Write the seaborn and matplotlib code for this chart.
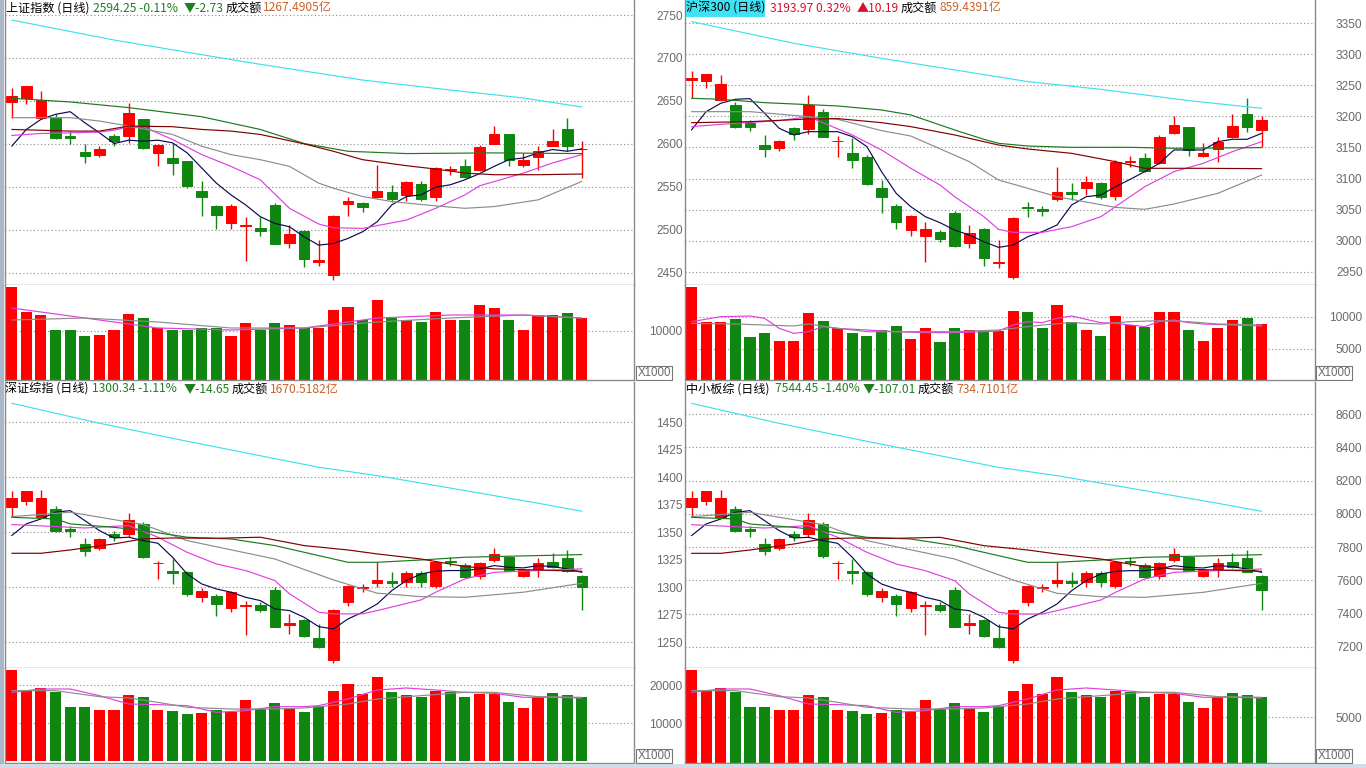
import numpy as np
import matplotlib
matplotlib.use("Agg")
import matplotlib.pyplot as plt
import matplotlib.patches as mpatches
import seaborn as sns

# ---------------- DATA ----------------
# 上证指数 (top-left)
tl_open = [2648.8, 2653.9, 2630.5, 2630.5, 2609.0, 2590.2, 2587.5, 2609.0, 2609.0, 2628.5, 2589.5, 2583.6, 2579.7, 2545.3, 2527.8, 2508.2, 2504.7, 2502.0, 2528.9, 2484.8, 2498.5, 2462.5, 2446.9, 2529.7, 2531.7, 2537.9, 2543.8, 2540.6, 2553.5, 2538.7, 2569.2, 2574.6, 2569.2, 2600.4, 2611.0, 2575.8, 2584.8, 2597.3, 2616.8, 2593.5]
tl_close = [2655.9, 2667.6, 2651.2, 2607.0, 2606.7, 2585.6, 2594.5, 2603.1, 2635.6, 2595.3, 2599.2, 2577.8, 2550.4, 2537.9, 2517.2, 2527.8, 2505.5, 2498.8, 2484.0, 2494.9, 2466.4, 2464.5, 2516.0, 2533.6, 2527.0, 2545.3, 2535.9, 2555.1, 2535.9, 2571.9, 2570.7, 2561.4, 2596.5, 2611.0, 2580.9, 2581.6, 2592.2, 2603.1, 2597.0, 2594.25]
tl_high = [2665.6, 2667.6, 2661.7, 2634.4, 2614.9, 2600.4, 2597.3, 2611.0, 2648.1, 2629.3, 2600.0, 2601.2, 2580.5, 2556.3, 2528.5, 2530.1, 2515.3, 2515.3, 2531.7, 2505.5, 2499.6, 2487.9, 2517.2, 2537.9, 2532.8, 2575.8, 2552.4, 2556.3, 2557.0, 2573.1, 2574.6, 2582.4, 2599.2, 2620.7, 2611.7, 2589.5, 2598.1, 2617.6, 2630.5, 2603.1]
tl_low = [2630.5, 2646.1, 2628.5, 2605.1, 2600.4, 2577.8, 2584.8, 2597.3, 2601.2, 2594.5, 2574.6, 2564.1, 2548.4, 2516.0, 2500.4, 2500.4, 2463.7, 2493.0, 2483.2, 2479.3, 2456.7, 2457.5, 2441.8, 2516.0, 2521.1, 2536.7, 2532.8, 2534.0, 2534.0, 2534.0, 2564.1, 2560.2, 2568.4, 2600.0, 2573.8, 2573.1, 2570.0, 2597.3, 2591.4, 2560.0]
tl_vol = [18972, 13872, 13260, 10200, 10200, 8976, 9180, 10200, 13464, 12648, 10608, 10200, 10200, 10608, 10608, 8976, 11628, 10200, 11628, 11220, 10608, 10608, 14280, 14892, 12240, 16320, 12648, 12240, 11832, 13872, 12240, 12240, 15300, 14688, 12240, 10200, 13260, 13260, 13668, 12648]
tl_volcol = list("rrrgggrrrgrggggrrggrgrrrgrgrgrrgrrgrrrgr")
tl_ma5 = [2597.3, 2616.8, 2628.5, 2634.4, 2637.5, 2624.6, 2612.9, 2600.4, 2604.3, 2603.1, 2604.3, 2601.2, 2589.5, 2571.9, 2554.3, 2540.6, 2529.0, 2515.3, 2507.4, 2503.5, 2491.8, 2482.1, 2484.0, 2489.9, 2497.7, 2509.4, 2529.0, 2538.7, 2540.6, 2549.6, 2552.4, 2558.2, 2565.3, 2573.8, 2581.6, 2583.6, 2589.5, 2593.4, 2591.4, 2594.2]
tl_ma10_i = [0, 2, 4, 6, 7, 8, 9, 11, 13, 15, 17, 19, 21, 22, 24, 27, 29, 31, 32, 35, 37, 39]
tl_ma10 = [2609.8, 2612.1, 2612.9, 2613.7, 2616.0, 2620.0, 2620.0, 2605.1, 2587.5, 2573.8, 2558.2, 2525.0, 2506.7, 2502.4, 2501.6, 2511.3, 2525.0, 2540.6, 2551.2, 2566.0, 2577.8, 2587.5]
tl_ma20_i = [0, 4, 6, 8, 11, 13, 15, 17, 19, 21, 22, 24, 26, 29, 31, 33, 36, 39]
tl_ma20 = [2630.5, 2630.5, 2626.6, 2620.7, 2611.0, 2597.3, 2587.5, 2581.6, 2573.8, 2554.3, 2548.4, 2538.7, 2532.8, 2527.8, 2525.0, 2527.0, 2534.8, 2556.3]
tl_ma30_i = [0, 4, 8, 13, 17, 20, 23, 27, 33, 39]
tl_ma30 = [2653.1, 2648.8, 2642.2, 2631.6, 2616.8, 2600.4, 2591.4, 2588.7, 2589.5, 2588.7]
tl_ma60_i = [0, 4, 6, 8, 11, 13, 15, 17, 20, 22, 24, 27, 29, 31, 33, 36, 39]
tl_ma60 = [2616.8, 2614.9, 2614.9, 2620.7, 2620.0, 2616.8, 2614.9, 2611.0, 2600.0, 2591.4, 2581.6, 2574.6, 2570.7, 2566.0, 2564.1, 2564.1, 2564.9]
tl_ma250_i = [0, 7, 16, 24, 30, 35, 39]
tl_ma250 = [2744.2, 2720.9, 2695.3, 2674.3, 2662.7, 2653.4, 2642.9]
tl_vma5_i = [0, 5, 10, 15, 20, 25, 30, 35, 39]
tl_vma5 = [14688, 12648, 10608, 10200, 10608, 12648, 13260, 13260, 12648]
tl_vma10_i = [0, 5, 10, 15, 20, 25, 30, 35, 39]
tl_vma10 = [12240, 12648, 11832, 10608, 10608, 11832, 12648, 13260, 12648]

# 沪深300 (top-right)
tr_open = [3259.0, 3257.7, 3226.5, 3218.5, 3188.9, 3154.0, 3149.7, 3181.4, 3180.4, 3206.7, 3160.0, 3140.6, 3135.3, 3084.3, 3055.8, 3017.1, 3007.5, 3014.5, 3045.1, 2996.7, 3018.2, 2963.4, 2942.0, 3054.7, 3051.5, 3066.5, 3078.3, 3084.3, 3092.3, 3071.9, 3126.1, 3132.6, 3124.5, 3172.8, 3182.5, 3136.3, 3147.1, 3166.4, 3204.0, 3178.2]
tr_close = [3261.4, 3268.4, 3252.3, 3183.6, 3182.5, 3147.1, 3160.0, 3171.8, 3218.5, 3167.5, 3161.0, 3129.9, 3091.2, 3069.8, 3030.6, 3039.7, 3018.2, 3003.2, 2991.4, 3011.8, 2971.5, 2966.1, 3035.9, 3053.1, 3047.7, 3078.9, 3074.6, 3095.0, 3069.8, 3127.2, 3128.8, 3112.7, 3167.5, 3186.3, 3146.0, 3141.7, 3159.4, 3184.6, 3183.8, 3193.97]
tr_high = [3273.2, 3268.4, 3266.8, 3223.8, 3194.3, 3170.2, 3161.6, 3183.6, 3234.6, 3211.5, 3168.5, 3164.8, 3138.0, 3097.7, 3059.0, 3041.3, 3030.6, 3017.1, 3048.3, 3025.2, 3019.8, 3001.0, 3037.5, 3062.8, 3055.8, 3119.2, 3092.3, 3104.1, 3095.0, 3129.9, 3136.3, 3141.7, 3170.2, 3200.8, 3183.6, 3157.8, 3167.5, 3204.0, 3229.2, 3200.8]
tr_low = [3229.2, 3245.3, 3225.5, 3180.9, 3176.6, 3135.3, 3144.9, 3162.1, 3171.8, 3166.4, 3135.3, 3116.5, 3089.6, 3045.1, 3019.1, 3008.0, 2966.1, 2998.4, 2990.3, 2987.6, 2959.2, 2955.4, 2937.7, 3038.6, 3039.7, 3064.4, 3065.5, 3073.5, 3066.5, 3065.5, 3119.2, 3111.1, 3123.4, 3171.8, 3136.3, 3135.3, 3127.2, 3165.3, 3175.5, 3151.4]
tr_vol = [14734, 9271, 9271, 9688, 6927, 7552, 6302, 6302, 10573, 9427, 8229, 7448, 7083, 7969, 8646, 6615, 8333, 6146, 8333, 7969, 7813, 7813, 10990, 10833, 8229, 11927, 9271, 7969, 7083, 10208, 8750, 8490, 10833, 10833, 7969, 6250, 8333, 9531, 9896, 8854]
tr_volcol = list("rrrgggrrrgrggggrrggrgrrggrgrgrrgrrgrrrgr")
tr_ma5 = [3178.2, 3207.7, 3221.2, 3227.6, 3228.7, 3205.1, 3180.9, 3170.2, 3175.5, 3175.5, 3175.5, 3167.5, 3151.4, 3111.1, 3076.2, 3054.7, 3038.6, 3028.9, 3017.1, 3009.1, 2998.3, 2989.2, 2992.9, 3006.4, 3014.5, 3025.2, 3057.4, 3070.8, 3073.5, 3086.9, 3098.7, 3111.1, 3124.5, 3146.0, 3146.0, 3146.0, 3159.4, 3163.2, 3163.2, 3172.8]
tr_ma10_i = [0, 3, 6, 8, 11, 13, 15, 17, 18, 20, 21, 22, 24, 26, 28, 29, 31, 33, 35, 37, 39]
tr_ma10 = [3183.6, 3189.0, 3193.2, 3199.7, 3170.2, 3146.0, 3116.5, 3089.6, 3070.8, 3038.6, 3018.2, 3013.4, 3013.4, 3022.5, 3038.6, 3054.7, 3086.9, 3111.1, 3124.5, 3143.3, 3159.4]
tr_ma20_i = [0, 4, 8, 10, 13, 15, 19, 21, 23, 25, 29, 31, 33, 36, 39]
tr_ma20 = [3207.7, 3207.7, 3199.7, 3195.4, 3177.1, 3168.5, 3127.2, 3097.7, 3084.3, 3070.8, 3053.6, 3050.4, 3059.0, 3076.2, 3105.7]
tr_ma30_i = [0, 2, 5, 10, 13, 15, 18, 20, 21, 23, 26, 30, 33, 39]
tr_ma30 = [3229.2, 3227.6, 3222.2, 3216.9, 3210.4, 3202.4, 3178.2, 3163.2, 3156.7, 3152.4, 3150.3, 3150.3, 3148.7, 3149.8]
tr_ma60_i = [0, 4, 8, 10, 13, 15, 18, 21, 23, 26, 29, 31, 35, 39]
tr_ma60 = [3190.0, 3191.6, 3195.9, 3196.5, 3190.0, 3183.6, 3170.2, 3154.0, 3147.6, 3140.6, 3127.2, 3116.5, 3116.5, 3115.9]
tr_ma250_i = [0, 7, 13, 18, 23, 28, 34, 39]
tr_ma250 = [3352.7, 3317.8, 3293.6, 3274.9, 3256.1, 3243.7, 3225.5, 3213.1]
tr_vma5_i = [0, 2, 4, 5, 6, 7, 8, 9, 10, 12, 14, 16, 18, 20, 21, 22, 23, 24, 25, 26, 27, 28, 29, 30, 31, 32, 33, 34, 35, 37, 39]
tr_vma5 = [9271, 10052, 10156, 9792, 8229, 7448, 7708, 8490, 8229, 7969, 7708, 7552, 7552, 7708, 7813, 8750, 9271, 9115, 9792, 10156, 9635, 9115, 9010, 8750, 8490, 9271, 9531, 9115, 8906, 8750, 8594]
tr_vma10_i = [0, 3, 5, 7, 8, 10, 12, 15, 18, 21, 22, 24, 26, 28, 30, 32, 34, 36, 39]
tr_vma10 = [9010, 8906, 8750, 8594, 8906, 8229, 7708, 7708, 7708, 7969, 8229, 8750, 9115, 8906, 9271, 9427, 9271, 8906, 8750]

# 深证综指 (bottom-left)
bl_open = [1373.3, 1378.8, 1363.6, 1371.2, 1352.7, 1339.4, 1335.5, 1348.5, 1348.5, 1357.6, 1321.8, 1314.6, 1313.6, 1291.5, 1292.4, 1281.2, 1283.3, 1284.0, 1297.6, 1266.1, 1270.3, 1253.9, 1233.9, 1286.4, 1299.4, 1303.6, 1305.4, 1304.5, 1312.7, 1301.5, 1323.6, 1320.6, 1310.6, 1324.8, 1327.9, 1310.6, 1316.7, 1322.7, 1326.7, 1310.6]
bl_close = [1380.9, 1387.3, 1380.9, 1351.5, 1350.9, 1332.7, 1344.0, 1345.5, 1361.2, 1327.9, 1322.4, 1312.7, 1293.9, 1296.4, 1284.9, 1295.5, 1284.2, 1279.4, 1264.2, 1267.3, 1256.1, 1246.0, 1279.4, 1301.5, 1300.6, 1306.7, 1303.6, 1312.7, 1304.5, 1322.7, 1322.7, 1309.7, 1321.8, 1330.3, 1315.2, 1315.7, 1321.8, 1318.8, 1314.99, 1300.34]
bl_high = [1387.3, 1387.9, 1388.5, 1374.2, 1356.1, 1344.5, 1344.5, 1351.5, 1367.3, 1359.1, 1324.2, 1325.7, 1314.5, 1299.4, 1293.9, 1296.4, 1287.9, 1286.4, 1300.0, 1275.8, 1271.2, 1266.7, 1280.3, 1302.4, 1303.0, 1322.7, 1313.6, 1314.5, 1314.5, 1324.2, 1327.9, 1321.8, 1322.7, 1335.7, 1328.8, 1316.7, 1326.7, 1330.9, 1333.9, 1311.2]
bl_low = [1363.6, 1375.1, 1362.7, 1350.0, 1346.1, 1328.8, 1334.2, 1342.4, 1345.5, 1326.7, 1307.6, 1303.0, 1292.4, 1286.4, 1274.2, 1277.9, 1257.0, 1277.3, 1263.6, 1257.6, 1254.5, 1244.8, 1231.5, 1283.3, 1295.5, 1300.6, 1300.6, 1300.6, 1300.6, 1299.4, 1319.7, 1308.5, 1307.6, 1322.7, 1314.5, 1309.7, 1309.7, 1317.6, 1313.6, 1279.4]
bl_vol = [23950, 18687, 19214, 18072, 14300, 14300, 13423, 13423, 17458, 16756, 13423, 13072, 12370, 12633, 13423, 12808, 16055, 13686, 15176, 13686, 12808, 14562, 18511, 20266, 17634, 22029, 18072, 17370, 16931, 18336, 18072, 16931, 17634, 17634, 15439, 13950, 16756, 17809, 17370, 16756]
bl_volcol = list("rrrgggrrrgrggrgrrggrggrrrrgrgrggrrgrrggg")
bl_ma5 = [1347.0, 1357.6, 1362.1, 1368.2, 1369.7, 1360.6, 1351.5, 1344.8, 1345.5, 1342.4, 1340.0, 1327.3, 1312.1, 1303.0, 1298.5, 1295.5, 1290.9, 1287.9, 1280.3, 1278.8, 1272.7, 1264.2, 1262.1, 1271.2, 1277.3, 1284.8, 1297.0, 1306.1, 1312.1, 1314.6, 1315.2, 1315.2, 1316.7, 1319.7, 1318.2, 1317.6, 1319.7, 1318.8, 1316.7, 1313.6]
bl_ma10_i = [0, 3, 5, 8, 10, 12, 14, 16, 18, 19, 21, 22, 24, 25, 28, 29, 31, 33, 36, 39]
bl_ma10 = [1357.0, 1355.2, 1353.9, 1356.1, 1345.5, 1331.8, 1321.2, 1315.2, 1306.1, 1294.0, 1277.3, 1275.8, 1275.8, 1278.8, 1288.5, 1295.5, 1307.6, 1313.6, 1315.2, 1316.7]
bl_ma20_i = [0, 4, 9, 12, 18, 22, 25, 28, 31, 35, 39]
bl_ma20 = [1364.2, 1368.2, 1357.0, 1342.4, 1325.7, 1306.7, 1294.6, 1291.5, 1290.9, 1295.5, 1303.6]
bl_ma30_i = [0, 3, 4, 7, 9, 12, 15, 18, 20, 23, 25, 28, 31, 33, 36, 39]
bl_ma30 = [1363.6, 1362.1, 1357.6, 1354.5, 1351.5, 1345.5, 1343.9, 1337.9, 1331.8, 1322.7, 1322.7, 1324.8, 1327.3, 1327.9, 1328.8, 1329.7]
bl_ma60_i = [0, 2, 4, 7, 9, 11, 14, 17, 20, 23, 25, 28, 31, 33, 36, 39]
bl_ma60 = [1330.9, 1330.9, 1333.9, 1339.4, 1344.0, 1344.8, 1344.5, 1345.5, 1337.9, 1333.9, 1330.3, 1325.7, 1318.8, 1316.7, 1315.7, 1314.5]
bl_ma250_i = [0, 6, 12, 21, 25, 31, 36, 39]
bl_ma250 = [1467.3, 1449.1, 1432.7, 1409.1, 1401.5, 1387.9, 1376.4, 1369.1]
bl_vma5_i = [0, 2, 4, 6, 8, 10, 12, 14, 16, 18, 20, 21, 23, 25, 27, 29, 31, 33, 35, 37, 39]
bl_vma5 = [18076, 18953, 18953, 17198, 15005, 14829, 14566, 12811, 13250, 14303, 14303, 14566, 16321, 18690, 19216, 18690, 18076, 17813, 16760, 16760, 16585]
bl_vma10_i = [0, 3, 6, 8, 10, 12, 15, 18, 20, 23, 25, 28, 31, 33, 36, 39]
bl_vma10 = [18514, 18514, 16935, 16584, 15443, 14127, 13689, 13689, 13952, 15005, 16321, 17198, 18076, 18076, 16935, 16760]

# 中小板综 (bottom-right)
br_open = [8043.2, 8079.3, 7979.1, 8029.2, 7907.0, 7819.9, 7792.9, 7879.0, 7879.0, 7939.1, 7702.7, 7654.7, 7648.7, 7502.4, 7508.5, 7434.4, 7448.4, 7452.4, 7542.5, 7334.2, 7362.2, 7254.1, 7121.9, 7468.4, 7554.5, 7582.6, 7594.6, 7588.6, 7642.7, 7568.5, 7714.7, 7694.7, 7628.6, 7722.8, 7742.8, 7628.6, 7668.7, 7708.7, 7734.8, 7628.6]
br_close = [8093.3, 8135.4, 8093.3, 7899.0, 7895.0, 7775.8, 7849.0, 7858.9, 7963.1, 7743.8, 7706.7, 7642.7, 7518.5, 7534.5, 7458.4, 7528.5, 7454.4, 7422.3, 7322.2, 7342.2, 7268.1, 7202.0, 7422.3, 7568.5, 7562.5, 7602.6, 7582.6, 7642.7, 7588.6, 7708.7, 7708.7, 7622.6, 7702.7, 7758.8, 7658.7, 7662.7, 7702.7, 7682.7, 7651.46, 7544.45]
br_high = [8135.4, 8139.4, 8143.4, 8049.2, 7929.1, 7853.0, 7853.0, 7899.0, 8003.2, 7949.1, 7718.8, 7728.8, 7654.7, 7554.5, 7518.5, 7534.5, 7478.4, 7468.4, 7558.5, 7398.3, 7368.3, 7338.2, 7428.3, 7574.6, 7578.6, 7708.7, 7648.7, 7654.7, 7654.7, 7718.8, 7742.8, 7702.7, 7708.7, 7794.9, 7748.8, 7668.7, 7734.8, 7762.8, 7782.9, 7632.6]
br_low = [7979.1, 8055.3, 7973.1, 7889.0, 7863.0, 7749.8, 7784.9, 7838.9, 7858.9, 7735.8, 7608.6, 7578.6, 7508.5, 7468.4, 7388.3, 7412.3, 7274.1, 7408.3, 7318.2, 7278.1, 7258.1, 7194.0, 7105.9, 7448.4, 7528.5, 7562.5, 7562.5, 7562.5, 7562.5, 7554.5, 7688.7, 7614.6, 7608.6, 7708.7, 7654.7, 7622.6, 7622.6, 7674.7, 7648.7, 7422.3]
br_vol = [10112, 7937, 8154, 7683, 6125, 6125, 5764, 5764, 7430, 7141, 5764, 5619, 5329, 5438, 5764, 5510, 6851, 5872, 6488, 5872, 5510, 6234, 7865, 8590, 7503, 9315, 7683, 7394, 7213, 7793, 7683, 7213, 7503, 7503, 6597, 5981, 7141, 7575, 7394, 7141]
br_volcol = list("rrrgggrrrgrggrgrrggrggrrrrgrgrggrrgrrggg")
br_ma5 = [7869.0, 7939.1, 7969.1, 8009.2, 8019.2, 7959.1, 7899.0, 7855.0, 7859.0, 7838.9, 7822.9, 7738.8, 7638.6, 7578.6, 7548.5, 7528.5, 7498.4, 7478.4, 7428.3, 7418.3, 7378.3, 7322.2, 7308.2, 7368.3, 7408.3, 7458.4, 7538.5, 7598.6, 7638.6, 7654.7, 7658.7, 7658.7, 7668.7, 7688.7, 7678.7, 7674.7, 7688.7, 7682.7, 7668.7, 7648.7]
br_ma10_i = [0, 3, 5, 8, 10, 12, 14, 16, 18, 19, 21, 22, 24, 25, 28, 29, 31, 33, 36, 39]
br_ma10 = [7935.1, 7923.1, 7915.0, 7929.1, 7859.0, 7768.8, 7698.7, 7658.7, 7598.6, 7518.5, 7408.3, 7398.3, 7398.3, 7418.3, 7482.4, 7528.5, 7608.6, 7648.7, 7658.7, 7668.7]
br_ma20_i = [0, 4, 9, 12, 18, 22, 25, 28, 31, 35, 39]
br_ma20 = [7983.1, 8009.2, 7935.1, 7838.9, 7728.8, 7602.6, 7522.5, 7502.4, 7498.4, 7528.5, 7582.6]
br_ma30_i = [0, 3, 4, 7, 9, 12, 15, 18, 20, 23, 25, 28, 31, 33, 36, 39]
br_ma30 = [7979.1, 7969.1, 7939.1, 7919.0, 7899.0, 7858.9, 7848.9, 7808.9, 7768.8, 7708.7, 7708.7, 7722.8, 7738.8, 7742.8, 7748.8, 7754.8]
br_ma60_i = [0, 2, 4, 7, 9, 11, 14, 17, 20, 23, 25, 28, 31, 33, 36, 39]
br_ma60 = [7762.8, 7762.8, 7782.9, 7818.9, 7849.0, 7855.0, 7853.0, 7859.0, 7808.9, 7782.9, 7758.8, 7728.8, 7682.7, 7668.7, 7662.7, 7654.7]
br_ma250_i = [0, 6, 12, 21, 25, 31, 36, 39]
br_ma250 = [8664.1, 8543.9, 8435.8, 8279.6, 8229.5, 8139.4, 8063.3, 8015.2]
br_vma5_i = [0, 2, 4, 6, 8, 10, 12, 14, 16, 18, 20, 21, 23, 25, 27, 29, 31, 33, 35, 37, 39]
br_vma5 = [7683, 8045, 8045, 7321, 6415, 6343, 6234, 5510, 5691, 6125, 6125, 6234, 6959, 7937, 8154, 7937, 7683, 7575, 7141, 7141, 7068]
br_vma10_i = [0, 3, 6, 8, 10, 12, 15, 18, 20, 23, 25, 28, 31, 33, 36, 39]
br_vma10 = [7865, 7865, 7213, 7068, 6597, 6054, 5872, 5872, 5981, 6416, 6959, 7321, 7683, 7683, 7213, 7141]

# axis ticks
tl_ticks = [2450, 2500, 2550, 2600, 2650, 2700, 2750]
tr_ticks = [2950, 3000, 3050, 3100, 3150, 3200, 3250, 3300, 3350]
bl_ticks = [1250, 1275, 1300, 1325, 1350, 1375, 1400, 1425, 1450]
bl_grid = [1250, 1300, 1350, 1400, 1450]
br_ticks = [7200, 7400, 7600, 7800, 8000, 8200, 8400, 8600]
tl_vticks = [10000]
tr_vticks = [5000, 10000]
bl_vticks = [10000, 20000]
br_vticks = [5000]

# headers: (text, color)
tl_header = [("上证指数 (日线)", "k"), ("2594.25 -0.11%", "g"), ("▼-2.73", "g"), ("成交额", "k"), ("1267.4905亿", "o")]
tr_header = [("沪深300 (日线)", "k"), ("3193.97 0.32%", "r"), ("▲10.19", "r"), ("成交额", "k"), ("859.4391亿", "o")]
bl_header = [("深证综指 (日线)", "k"), ("1300.34 -1.11%", "g"), ("▼-14.65", "g"), ("成交额", "k"), ("1670.5182亿", "o")]
br_header = [("中小板综 (日线)", "k"), ("7544.45 -1.40%", "g"), ("▼-107.01", "g"), ("成交额", "k"), ("734.7101亿", "o")]

# ---------------- STYLE ----------------
sns.set_theme(style="white")
plt.rcParams["font.family"] = ["Liberation Sans", "Noto Sans CJK SC", "DejaVu Sans"]
CJK = ["Noto Sans CJK SC", "DejaVu Sans"]
W, H = 1366, 768
RED, GREEN = "#ff0000", "#0f860f"
HCOL = {"k": "#000000", "g": "#1f7f1f", "r": "#d8102a", "o": "#c8642a"}
C_MA5, C_MA10, C_MA20, C_MA30, C_MA60, C_MA250 = "#0a0a50", "#e040e0", "#8c8c8c", "#1e781e", "#800000", "#40e0f0"
SPINE = "#8a8a8a"
LABEL = "#6a6a6a"

fig = plt.figure(figsize=(W / 100, H / 100), dpi=100)
fig.patch.set_facecolor("white")


def rect(x0, y0, x1, y1):
    return [x0 / W, 1 - y1 / H, (x1 - x0) / W, (y1 - y0) / H]


def style_axes(ax, xlim, ylim, ticks, grid, pad_px, top=False, bottom=True):
    ax.set_facecolor("white")
    ax.set_xlim(*xlim)
    ax.set_ylim(*ylim)
    ax.set_xticks([])
    ax.yaxis.tick_right()
    ax.set_yticks(ticks)
    ax.set_yticklabels([str(t) for t in ticks])
    ax.tick_params(axis="y", length=0, pad=pad_px * 0.72, labelsize=8.6, labelcolor=LABEL)
    for t in ax.yaxis.get_major_ticks():
        t.label2.set_horizontalalignment("right")
    for g in grid:
        ax.axhline(g, color="#8a8a8a", lw=0.8, ls=(0, (1, 2.2)), zorder=0)
    for s in ["left", "right", "top", "bottom"]:
        ax.spines[s].set_color(SPINE)
        ax.spines[s].set_linewidth(1.0)
    ax.spines["top"].set_visible(top)
    ax.spines["bottom"].set_visible(bottom)
    ax.grid(False)


def candles(ax, o, h, l, c):
    o, h, l, c = map(np.asarray, (o, h, l, c))
    x = np.arange(len(o))
    cols = np.where(c >= o, RED, GREEN)
    ax.vlines(x, l, h, colors=cols, lw=1.0, zorder=2)
    ax.bar(x, np.abs(c - o), bottom=np.minimum(o, c), width=0.72, color=cols,
           edgecolor=cols, linewidth=0.7, zorder=2.1)


def ma(ax, idx, vals, col, lw=0.85):
    sns.lineplot(x=idx, y=vals, ax=ax, color=col, linewidth=lw, legend=False, zorder=3)


def panel(px0, px1, py0, pysep, py1, o, h, l, c, ylim, ticks, grid, mas,
          vol, volcol, vlim, vticks, vmas, pad_px, first_x):
    span = 14.62
    xlim = (-first_x / span, (px1 - px0 - first_x) / span)
    axp = fig.add_axes(rect(px0, py0, px1, pysep))
    axv = fig.add_axes(rect(px0, pysep, px1, py1))
    style_axes(axp, xlim, ylim, ticks, grid, pad_px, top=False, bottom=True)
    style_axes(axv, xlim, vlim, vticks, vticks, pad_px, top=False, bottom=True)
    candles(axp, o, h, l, c)
    for idx, vals, col in mas:
        ma(axp, idx, vals, col)
    x = np.arange(len(vol))
    cols = [RED if k == "r" else GREEN for k in volcol]
    axv.bar(x, vol, width=0.76, color=cols, linewidth=0, zorder=2)
    for idx, vals, col in vmas:
        ma(axv, idx, vals, col)
    for a in (axp, axv):
        a.set_xlabel("")
        a.set_ylabel("")
    return axp, axv


# top-left
panel(5, 634, 0, 285, 380, tl_open, tl_high, tl_low, tl_close, (2435.7, 2767.5), tl_ticks, tl_ticks,
      [(list(range(40)), tl_ma5, C_MA5), (tl_ma10_i, tl_ma10, C_MA10), (tl_ma20_i, tl_ma20, C_MA20),
       (tl_ma30_i, tl_ma30, C_MA30), (tl_ma60_i, tl_ma60, C_MA60), (tl_ma250_i, tl_ma250, C_MA250)],
      tl_vol, tl_volcol, (0, 19380), tl_vticks,
      [(tl_vma5_i, tl_vma5, C_MA10), (tl_vma10_i, tl_vma10, C_MA20)], 48.5, 6.7)
# top-right
panel(685, 1315, 0, 285, 380, tr_open, tr_high, tr_low, tr_close, (2928.6, 3387.5), tr_ticks, tr_ticks,
      [(list(range(40)), tr_ma5, C_MA5), (tr_ma10_i, tr_ma10, C_MA10), (tr_ma20_i, tr_ma20, C_MA20),
       (tr_ma30_i, tr_ma30, C_MA30), (tr_ma60_i, tr_ma60, C_MA60), (tr_ma250_i, tr_ma250, C_MA250)],
      tr_vol, tr_volcol, (156, 15000), tr_vticks,
      [(tr_vma5_i, tr_vma5, C_MA10), (tr_vma10_i, tr_vma10, C_MA20)], 47.5, 6.5)
# bottom-left
panel(5, 634, 382, 668, 763, bl_open, bl_high, bl_low, bl_close, (1226.6, 1486.6), bl_ticks, bl_grid,
      [(list(range(40)), bl_ma5, C_MA5), (bl_ma10_i, bl_ma10, C_MA10), (bl_ma20_i, bl_ma20, C_MA20),
       (bl_ma30_i, bl_ma30, C_MA30), (bl_ma60_i, bl_ma60, C_MA60), (bl_ma250_i, bl_ma250, C_MA250)],
      bl_vol, bl_volcol, (-526, 24478), bl_vticks,
      [(bl_vma5_i, bl_vma5, C_MA10), (bl_vma10_i, bl_vma10, C_MA20)], 48.5, 6.7)
# bottom-right
panel(685, 1315, 382, 668, 763, br_open, br_high, br_low, br_close, (7073.8, 8792.3), br_ticks, br_ticks,
      [(list(range(40)), br_ma5, C_MA5), (br_ma10_i, br_ma10, C_MA10), (br_ma20_i, br_ma20, C_MA20),
       (br_ma30_i, br_ma30, C_MA30), (br_ma60_i, br_ma60, C_MA60), (br_ma250_i, br_ma250, C_MA250)],
      br_vol, br_volcol, (0, 10327), br_vticks,
      [(br_vma5_i, br_vma5, C_MA10), (br_vma10_i, br_vma10, C_MA20)], 47.5, 6.5)

# decorations: left strip, bottom strip
fig.patches.append(mpatches.Rectangle((0, 0), 4 / W, 1, transform=fig.transFigure,
                                      facecolor="#a9b7c9", edgecolor="none", zorder=0))
fig.patches.append(mpatches.Rectangle((0, 0), 1, 4 / H, transform=fig.transFigure,
                                      facecolor="#d3dbe5", edgecolor="none", zorder=0))
# cyan highlight behind top-right title
fig.patches.append(mpatches.Rectangle((686 / W, 1 - 17 / H), 79 / W, 17 / H, transform=fig.transFigure,
                                      facecolor="#3fe3f5", edgecolor="none", zorder=1))


def header(items, xs, ypx):
    for (txt, ck), xp in zip(items, xs):
        fig.text(xp / W, 1 - ypx / H, txt, color=HCOL[ck], fontsize=8.7, family=CJK,
                 ha="left", va="center", zorder=5)


header(tl_header, [6, 93, 184, 226, 263], 8)
header(tr_header, [686, 770, 857, 901, 939], 8)
header(bl_header, [5, 92, 184, 232, 270], 389)
header(br_header, [686, 775, 863, 918, 956], 389)

# X1000 boxes
for xc, yc in [(654, 373), (1334, 373), (654, 756), (1334, 756)]:
    fig.text(xc / W, 1 - yc / H, "X1000", fontsize=8.3, color=LABEL, ha="center", va="center",
             bbox=dict(boxstyle="square,pad=0.12", facecolor="white", edgecolor="#777777", linewidth=0.8))

fig.savefig("out.png", dpi=100, facecolor="white")
